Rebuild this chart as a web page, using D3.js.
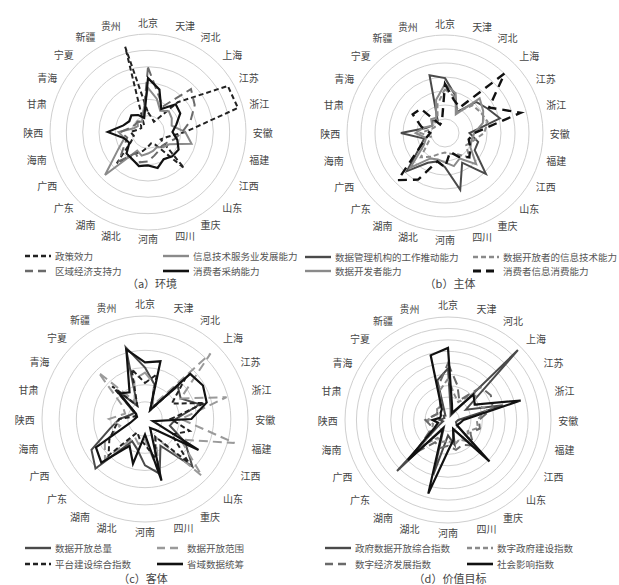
<!DOCTYPE html>
<html><head><meta charset="utf-8">
<script src="https://cdn.jsdelivr.net/npm/d3@7"></script>
<style>
html,body{margin:0;padding:0;background:#fff;}
svg{display:block;font-family:"Noto Sans CJK SC","Noto Sans",sans-serif;}
</style></head>
<body><svg id="c" width="619" height="585"></svg>
<script>
const categories = ["北京","天津","河北","上海","江苏","浙江","安徽","福建","江西","山东","重庆","四川","河南","湖北","湖南","广东","广西","海南","陕西","甘肃","青海","宁夏","新疆","贵州"];

// (a) 环境
const aPolicy   = [0.20,0.15,0.12,0.43,0.94,0.95,0.38,0.20,0.15,0.52,0.15,0.12,0.15,0.20,0.25,0.45,0.20,0.15,0.18,0.10,0.08,0.10,0.08,0.90];
const aITService= [0.45,0.35,0.25,0.30,0.28,0.25,0.38,0.46,0.25,0.22,0.18,0.20,0.22,0.25,0.22,0.62,0.35,0.25,0.30,0.15,0.12,0.15,0.12,0.20];
const aEconomy  = [0.66,0.40,0.30,0.62,0.55,0.45,0.35,0.28,0.22,0.20,0.22,0.25,0.30,0.32,0.25,0.42,0.28,0.22,0.28,0.18,0.15,0.15,0.12,0.18];
const aConsumer = [0.55,0.45,0.27,0.40,0.38,0.30,0.25,0.31,0.36,0.35,0.32,0.38,0.34,0.36,0.32,0.31,0.22,0.25,0.41,0.26,0.22,0.24,0.20,0.15];

// (b) 主体
const bAgency   = [0.56,0.40,0.25,0.45,0.50,0.58,0.25,0.35,0.35,0.59,0.35,0.60,0.35,0.30,0.35,0.55,0.30,0.22,0.45,0.20,0.15,0.18,0.15,0.61];
const bDeveloper= [0.50,0.42,0.22,0.50,0.45,0.40,0.30,0.28,0.30,0.45,0.30,0.35,0.30,0.28,0.30,0.50,0.25,0.20,0.30,0.22,0.15,0.20,0.18,0.35];
const bOpenerIT = [0.45,0.38,0.25,0.40,0.42,0.45,0.40,0.30,0.25,0.35,0.25,0.22,0.20,0.22,0.28,0.35,0.20,0.15,0.25,0.15,0.12,0.15,0.15,0.30];
const bConsumer = [0.50,0.35,0.30,0.86,0.52,0.80,0.30,0.25,0.30,0.35,0.28,0.20,0.35,0.30,0.55,0.68,0.30,0.20,0.15,0.25,0.38,0.35,0.10,0.12];

// (c) 客体
const cTotal    = [0.50,0.35,0.12,0.45,0.40,0.55,0.30,0.25,0.45,0.65,0.30,0.55,0.45,0.30,0.25,0.68,0.60,0.35,0.25,0.15,0.12,0.40,0.15,0.72];
const cScope    = [0.45,0.35,0.15,0.90,0.40,0.82,0.35,0.90,0.40,0.78,0.20,0.55,0.20,0.25,0.20,0.55,0.45,0.25,0.35,0.20,0.25,0.64,0.20,0.40];
const cPlatform = [0.35,0.45,0.10,0.55,0.30,0.60,0.25,0.45,0.30,0.60,0.20,0.40,0.25,0.20,0.15,0.50,0.40,0.30,0.25,0.10,0.10,0.45,0.15,0.50];
const cCoord    = [0.55,0.58,0.10,0.62,0.65,0.62,0.45,0.08,0.60,0.15,0.10,0.62,0.15,0.45,0.30,0.60,0.55,0.15,0.10,0.08,0.10,0.35,0.30,0.70];

// (d) 价值目标
const dGovOpen  = [0.50,0.10,0.05,0.96,0.20,0.55,0.10,0.08,0.10,0.45,0.10,0.25,0.15,0.55,0.08,0.70,0.10,0.05,0.08,0.05,0.04,0.06,0.05,0.40];
const dDigitGov = [0.40,0.25,0.20,0.38,0.30,0.40,0.28,0.30,0.22,0.30,0.22,0.25,0.20,0.22,0.20,0.35,0.18,0.15,0.20,0.15,0.12,0.15,0.15,0.30];
const dDigitEco = [0.55,0.35,0.22,0.45,0.48,0.45,0.30,0.32,0.25,0.35,0.28,0.30,0.25,0.28,0.25,0.45,0.20,0.18,0.22,0.15,0.12,0.15,0.15,0.35];
const dSocial   = [0.70,0.15,0.08,0.35,0.30,0.73,0.15,0.12,0.10,0.57,0.10,0.20,0.30,0.74,0.10,0.55,0.15,0.10,0.15,0.08,0.08,0.10,0.12,0.65];

// line styles
const ST = {
  blackSolid:  {color:"#111", width:2.2, dash:null},
  darkSolid:   {color:"#4a4a4a", width:2, dash:null},
  graySolid:   {color:"#8a8a8a", width:2, dash:null},
  darkShort:   {color:"#222", width:2, dash:"5,3"},
  grayShort:   {color:"#8a8a8a", width:2, dash:"5,3"},
  grayLong:    {color:"#6a6a6a", width:2, dash:"9,5"},
  lightLong:   {color:"#9a9a9a", width:2, dash:"9,5"},
  blackLong:   {color:"#111", width:2.4, dash:"9,6"}
};

const panels = [
  {cx:148, cy:132, R:98, rings:6, caption:"（a）环境", capX:152, capY:283, legY:[256,271],
   series:[
     {name:"政策效力", values:aPolicy, st:ST.darkShort, lx:25, row:0},
     {name:"信息技术服务业发展能力", values:aITService, st:ST.graySolid, lx:163, row:0},
     {name:"区域经济支持力", values:aEconomy, st:ST.grayLong, lx:25, row:1},
     {name:"消费者采纳能力", values:aConsumer, st:ST.blackSolid, lx:163, row:1}
   ]},
  {cx:445, cy:133, R:98, rings:7, caption:"（b）主体", capX:450, capY:283, legY:[257,271],
   series:[
     {name:"数据管理机构的工作推动能力", values:bAgency, st:ST.darkSolid, lx:305, row:0},
     {name:"数据开放者的信息技术能力", values:bOpenerIT, st:ST.grayShort, lx:473, row:0},
     {name:"数据开发者能力", values:bDeveloper, st:ST.graySolid, lx:305, row:1},
     {name:"消费者信息消费能力", values:bConsumer, st:ST.blackLong, lx:473, row:1}
   ]},
  {cx:145, cy:419, R:103, rings:6, caption:"（c）客体", capX:143, capY:578, legY:[548,564],
   series:[
     {name:"数据开放总量", values:cTotal, st:ST.darkSolid, lx:25, row:0},
     {name:"数据开放范围", values:cScope, st:ST.lightLong, lx:157, row:0},
     {name:"平台建设综合指数", values:cPlatform, st:ST.darkShort, lx:25, row:1},
     {name:"省域数据统筹", values:cCoord, st:ST.blackSolid, lx:157, row:1}
   ]},
  {cx:448, cy:420, R:103, rings:9, caption:"（d）价值目标", capX:450, capY:578, legY:[548,564],
   series:[
     {name:"政府数据开放综合指数", values:dGovOpen, st:ST.darkSolid, lx:325, row:0},
     {name:"数字政府建设指数", values:dDigitGov, st:ST.grayShort, lx:467, row:0},
     {name:"数字经济发展指数", values:dDigitEco, st:ST.grayLong, lx:325, row:1},
     {name:"社会影响指数", values:dSocial, st:ST.blackSolid, lx:467, row:1}
   ]}
];

const svg = d3.select("#c");
const n = categories.length;
const angle = d3.scaleLinear().domain([0, n]).range([0, 2*Math.PI]);

panels.forEach(p => {
  const g = svg.append("g").attr("transform", `translate(${p.cx},${p.cy})`);
  const r = d3.scaleLinear().domain([0,1]).range([0,p.R]);
  // rings
  d3.range(1, p.rings+1).forEach(k => {
    g.append("circle").attr("r", r(k/p.rings)).attr("fill","none")
      .attr("stroke","#cfcfcf").attr("stroke-width",1);
  });
  // category labels
  categories.forEach((c,i) => {
    const a = angle(i), s = Math.sin(a), co = Math.cos(a);
    const hx = p.R*1.07, vy = p.R*(co > 0 ? 1.12 : 1.09);
    const anchor = Math.abs(s) < 0.05 ? "middle" : (s > 0 ? "start" : "end");
    g.append("text").attr("x", hx*s).attr("y", -vy*co)
      .attr("text-anchor", anchor).attr("dominant-baseline","central")
      .attr("font-size", 10).attr("fill","#444").text(c);
  });
  // series
  const line = d3.lineRadial().angle((d,i)=>angle(i)).radius(d=>r(d)).curve(d3.curveLinearClosed);
  p.series.forEach(s => {
    g.append("path").datum(s.values).attr("d", line)
      .attr("fill","none").attr("stroke", s.st.color).attr("stroke-width", s.st.width)
      .attr("stroke-dasharray", s.st.dash).attr("stroke-linejoin","miter");
  });
  // legend
  p.series.forEach(s => {
    const y = p.legY[s.row];
    svg.append("line").attr("x1", s.lx).attr("x2", s.lx+26).attr("y1", y).attr("y2", y)
      .attr("stroke", s.st.color).attr("stroke-width", s.st.width+0.4).attr("stroke-dasharray", s.st.dash ? (s.st.dash==="5,3"?"5,3":"8,5") : null);
    svg.append("text").attr("x", s.lx+30).attr("y", y).attr("dominant-baseline","central")
      .attr("font-size", 9.5).attr("fill","#555").text(s.name);
  });
  svg.append("text").attr("x", p.capX).attr("y", p.capY).attr("text-anchor","middle")
    .attr("dominant-baseline","central").attr("font-size", 11).attr("fill","#444").text(p.caption);
});
</script>
</body></html>
